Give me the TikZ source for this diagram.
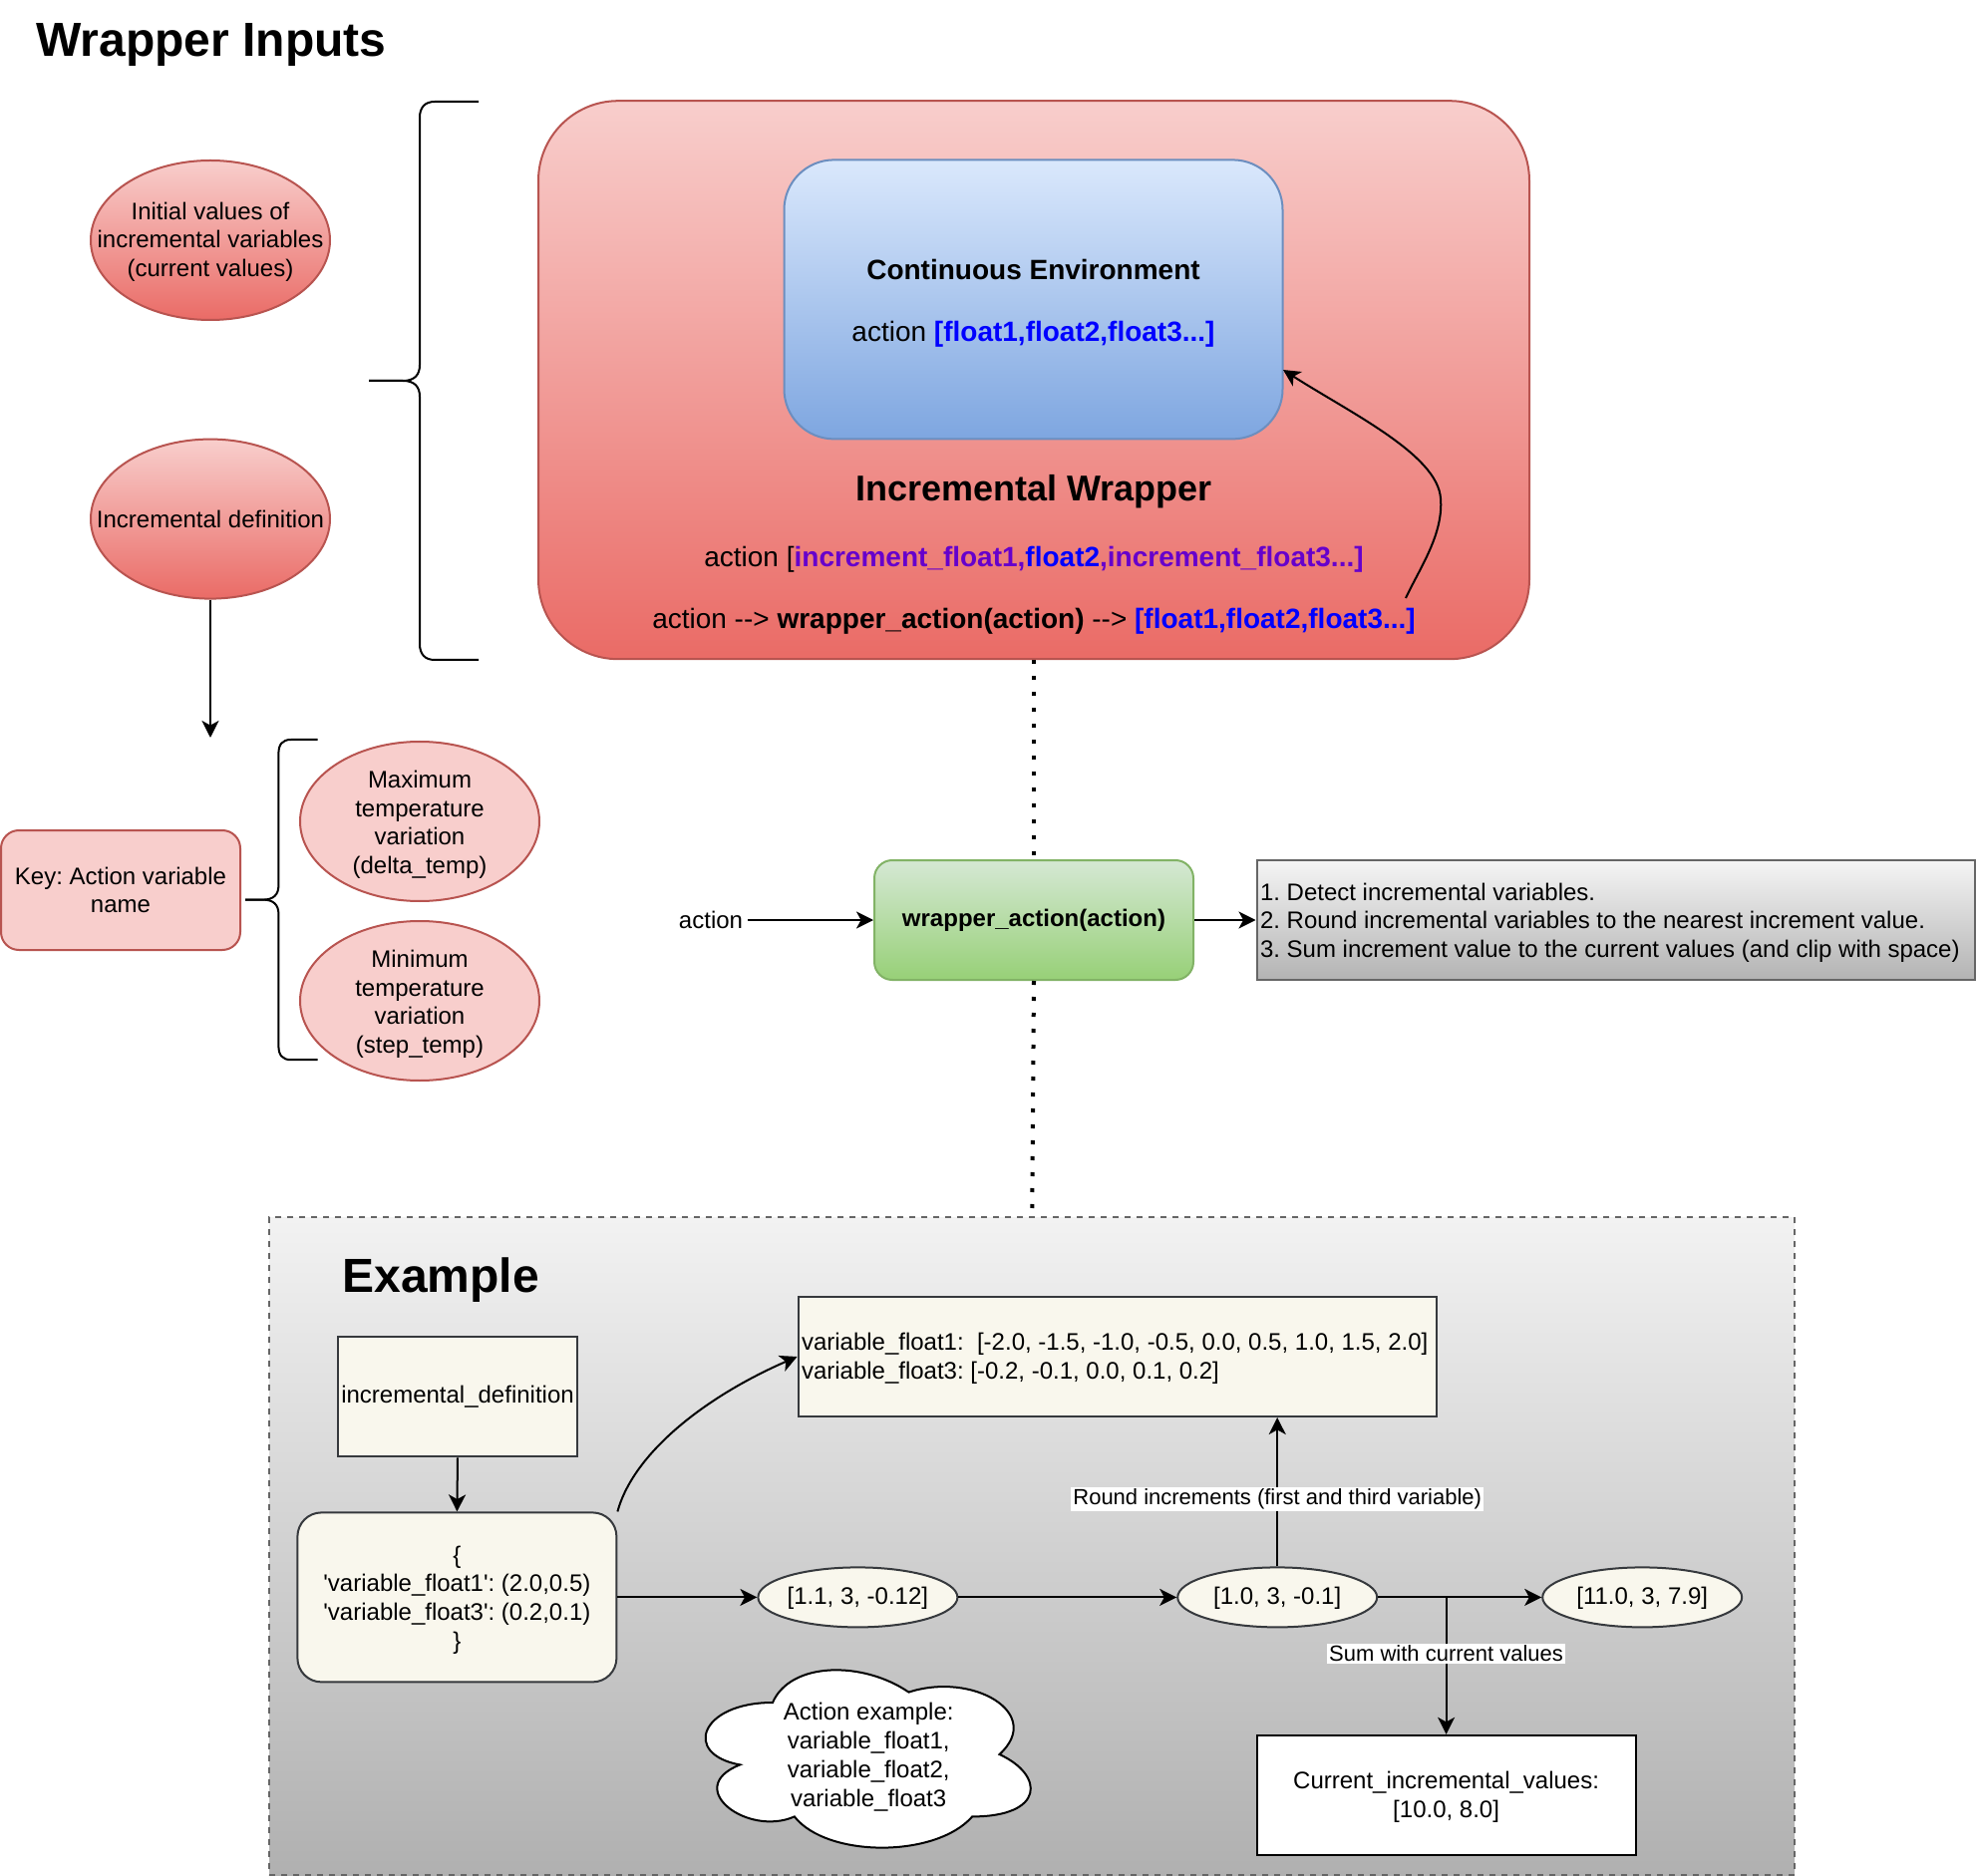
\documentclass[tikz,border=0pt]{standalone}
\usepackage{fontspec}
\setmainfont{Liberation Sans}
\usetikzlibrary{arrows.meta,shapes.geometric}
\definecolor{rfill}{HTML}{F8CECC}
\definecolor{rgrad}{HTML}{EA6B66}
\definecolor{rstroke}{HTML}{B85450}
\definecolor{bfill}{HTML}{DAE8FC}
\definecolor{bgrad}{HTML}{7EA6E0}
\definecolor{bstroke}{HTML}{6C8EBF}
\definecolor{gfill}{HTML}{D5E8D4}
\definecolor{ggrad}{HTML}{97D077}
\definecolor{gstroke}{HTML}{82B366}
\definecolor{grayfill}{HTML}{F5F5F5}
\definecolor{graygrad}{HTML}{B3B3B3}
\definecolor{graystroke}{HTML}{666666}
\definecolor{exfill}{HTML}{F2F2F2}
\definecolor{exgrad}{HTML}{B0B0B0}
\definecolor{cream}{HTML}{F9F7ED}
\definecolor{creamstroke}{HTML}{36393D}
\definecolor{purp}{HTML}{6600CC}
\definecolor{pureblue}{HTML}{0000FF}
\frenchspacing
\begin{document}
\begin{tikzpicture}[x=1pt,y=-1pt,line width=1pt,
  f11/.style={font=\fontsize{11}{13.2}\selectfont},
  f12/.style={font=\fontsize{12}{14.4}\selectfont},
  f12b/.style={font=\fontsize{12}{14.4}\selectfont\bfseries},
  f14/.style={font=\fontsize{14}{16.8}\selectfont},
  f14b/.style={font=\fontsize{14}{16.8}\selectfont\bfseries},
  f18b/.style={font=\fontsize{18}{21.6}\selectfont\bfseries},
  f24b/.style={font=\fontsize{24}{28.8}\selectfont\bfseries},
  arr/.style={-{Stealth[length=8.5pt,width=8.5pt,inset=2.3pt]},line width=1pt},
  txt/.style={inner sep=0pt,align=center},
  ltxt/.style={inner sep=0pt,align=left,anchor=west},
  redgrad/.style={top color=rfill,bottom color=rgrad,draw=rstroke},
  redflat/.style={fill=rfill,draw=rstroke},
  bluegrad/.style={top color=bfill,bottom color=bgrad,draw=bstroke},
  greengrad/.style={top color=gfill,bottom color=ggrad,draw=gstroke},
  graygradbox/.style={top color=grayfill,bottom color=graygrad,draw=graystroke},
  creambox/.style={fill=cream,draw=creamstroke},
  bigell/.style={ellipse,minimum width=120pt,minimum height=80pt,inner sep=0pt},
  smallell/.style={ellipse,minimum width=100pt,minimum height=30pt,inner sep=0pt,creambox},
  dotline/.style={line width=2pt,dash pattern=on 2pt off 6pt},
  bracepath/.style={line width=1pt}
]
\useasboundingbox (0,0) rectangle (991,941);

% ---------- Title ----------
\node[f24b,anchor=base west,inner sep=0pt] (title) at (17.7,28.2) {Wrapper Inputs};

% ---------- Left ellipses ----------
\node[bigell,redgrad] (e1) at (105.5,120.5) {};
\node[txt,f12] (e1t) at (105.5,121.3) {Initial values of\\incremental variables\\(current values)};
\node[bigell,redgrad] (e2) at (105.5,260.3) {};
\node[txt,f12] (e2t) at (105.5,260.3) {Incremental definition};

% ---------- Brace 1 ----------
\draw[bracepath] (240,51) -- (218,51) .. controls (213,51) and (210.5,54) .. (210.5,59) -- (210.5,183) .. controls (210.5,188) and (208,191) .. (202,191) -- (185,191);
\draw[bracepath] (185,191) -- (202,191) .. controls (208,191) and (210.5,194) .. (210.5,199) -- (210.5,323) .. controls (210.5,328) and (213,331) .. (218,331) -- (240,331);

% ---------- Incremental wrapper ----------
\node[redgrad,rounded corners=40pt,minimum width=497pt,minimum height=280pt,inner sep=0pt] (wrap) at (518.5,190.6) {};
\node[bluegrad,rounded corners=25pt,minimum width=250pt,minimum height=140pt,inner sep=0pt] (env) at (518.25,150.2) {};
\node[f14b,anchor=base,inner sep=0pt] (envtitle) at (518.25,140.5) {Continuous Environment};
\node[f14,anchor=base,inner sep=0pt] (envaction) at (518.25,171.5) {action \textcolor{pureblue}{\textbf{[float1,float2,float3...]}}};
\node[f18b,anchor=base,inner sep=0pt] (wraptitle) at (518.5,251.3) {Incremental Wrapper};
\node[f14,anchor=base,inner sep=0pt] (wline1) at (518.5,284.3) {action [\textcolor{purp}{\textbf{increment\_float1,}}\textcolor{pureblue}{\textbf{float2}}\textcolor{purp}{\textbf{,increment\_float3...]}}};
\node[f14,anchor=base,inner sep=0pt] (wline2) at (518.5,315.3) {action -{}-> \textbf{wrapper\_action(action)} -{}-> \textcolor{pureblue}{\textbf{[float1,float2,float3...]}}};
\coordinate (cstart) at (705,300);
\coordinate (cend) at (643.5,185.5);
\draw[arr] (cstart) .. controls (712,285) and (724,268) .. (722.5,250) .. controls (721,228) and (677,207) .. (cend);

% ---------- wrapper_action row ----------
\node[greengrad,rounded corners=9pt,minimum width=160pt,minimum height=60pt,inner sep=0pt,f12b] (green) at (518.5,461.5) {wrapper\_action(action)};
\node[f12,inner sep=2pt] (actlbl) at (356.5,461.5) {action};
\node[graygradbox,minimum width=360pt,minimum height=60pt,inner sep=0pt] (gray) at (810.25,461.5) {};
\node[ltxt,f12] (grayt) at (631.5,462.8) {1. Detect incremental variables.\\2. Round incremental variables to the nearest increment value.\\3. Sum increment value to the current values (and clip with space)};
\draw[arr] (actlbl.east) -- (actlbl.east -| green.west);
\draw[arr] (green.east) -- (gray.west);

% ---------- Key and brace 2 ----------
\coordinate (keyarrow) at (105.5,370);
\draw[arr] (e2.south) -- (keyarrow);
\node[redflat,rounded corners=9pt,minimum width=120pt,minimum height=60pt,inner sep=2pt,align=center,f12] (key) at (60.5,446.5) {Key: Action variable\\name};
\draw[bracepath] (159.3,371) -- (146,371) .. controls (141.5,371) and (139.7,373.5) .. (139.7,378) -- (139.7,444.3) .. controls (139.7,448.8) and (137,451.3) .. (132,451.3) -- (123,451.3);
\draw[bracepath] (123,451.3) -- (132,451.3) .. controls (137,451.3) and (139.7,453.8) .. (139.7,458.3) -- (139.7,524.6) .. controls (139.7,529.1) and (141.5,531.6) .. (146,531.6) -- (159.3,531.6);
\node[bigell,redflat] (e3) at (210.5,412) {};
\node[txt,f12] (e3t) at (210.5,413.6) {Maximum\\temperature\\variation\\(delta\_temp)};
\node[bigell,redflat] (e4) at (210.5,502) {};
\node[txt,f12] (e4t) at (210.5,503.6) {Minimum\\temperature\\variation\\(step\_temp)};

% ---------- Example box ----------
\node[top color=exfill,bottom color=exgrad,draw=graystroke,dash pattern=on 3pt off 3pt,minimum width=765pt,minimum height=330pt,inner sep=0pt] (example) at (517.6,775.6) {};
\draw[dotline] (wrap.south) -- (green.north);
\draw[dotline] (green.south) -- (example.north);
\node[f24b,anchor=base west,inner sep=0pt] (extitle) at (171.3,648.3) {Example};

\node[creambox,minimum width=120pt,minimum height=60pt,inner sep=1pt,f12] (incdef) at (229.5,700.7) {incremental\_definition};
\node[creambox,rounded corners=12pt,minimum width=160pt,minimum height=85pt,inner sep=0pt] (dict) at (229.2,801.2) {};
\node[txt,f12] (dictt) at (229.2,802.5) {\{\\\textquotesingle variable\_float1\textquotesingle: (2.0,0.5)\\\textquotesingle variable\_float3\textquotesingle: (0.2,0.1)\\\}};
\node[creambox,minimum width=320pt,minimum height=60pt,inner sep=0pt] (var) at (560.3,680.5) {};
\node[ltxt,f12] (vart) at (401.5,681.5) {variable\_float1:\ \ [-2.0, -1.5, -1.0, -0.5, 0.0, 0.5, 1.0, 1.5, 2.0]\\variable\_float3: [-0.2, -0.1, 0.0, 0.1, 0.2]};

\node[smallell] (el1) at (430.2,801.2) {};
\node[txt,f12] (el1t) at (430.2,801.5) {[1.1, 3, -0.12]};
\node[smallell] (el2) at (640.6,801.2) {};
\node[txt,f12] (el2t) at (640.6,801.5) {[1.0, 3, -0.1]};
\node[smallell] (el3) at (823.6,801.2) {};
\node[txt,f12] (el3t) at (823.6,801.5) {[11.0, 3, 7.9]};

\node[fill=white,draw=black,minimum width=190pt,minimum height=60pt,inner sep=0pt] (cur) at (725.3,900.4) {};
\node[txt,f12] (curt) at (725.3,901.3) {Current\_incremental\_values:\\[0pt]{}[10.0, 8.0]};

\draw[arr] (incdef.south) -- (dict.north);
\draw[arr] (dict.north east) .. controls (318,728) and (355,700) .. (var.west);
\draw[arr] (dict.east) -- (el1.west);
\draw[arr] (el1.east) -- (el2.west);
\draw[arr] (el2.east) -- (el3.west);
\draw[arr] (el2.north) -- node[pos=0.45,fill=white,inner sep=1pt,f11] (lblround) {Round increments (first and third variable)} (el2.north |- var.south);
\draw[arr] (el2.east) -| node[pos=0.705,fill=white,inner sep=1pt,f11] (lblsum) {Sum with current values} (cur.north);

% ---------- Cloud ----------
\draw[fill=white,draw=black,line width=1pt] (387.5,854) .. controls (351.1,854) and (342,880) .. (371.12,885.2)
  .. controls (342,896.64) and (374.76,921.6) .. (398.42,911.2)
  .. controls (414.8,932) and (469.4,932) .. (487.6,911.2)
  .. controls (524,911.2) and (524,890.4) .. (501.25,880)
  .. controls (524,859.2) and (487.6,838.4) .. (455.75,848.8)
  .. controls (433,833.2) and (396.6,833.2) .. (387.5,854) -- cycle;
\node[txt,f12] (cloudt) at (435.6,881.3) {Action example:\\variable\_float1,\\variable\_float2,\\variable\_float3};
\end{tikzpicture}
\end{document}
